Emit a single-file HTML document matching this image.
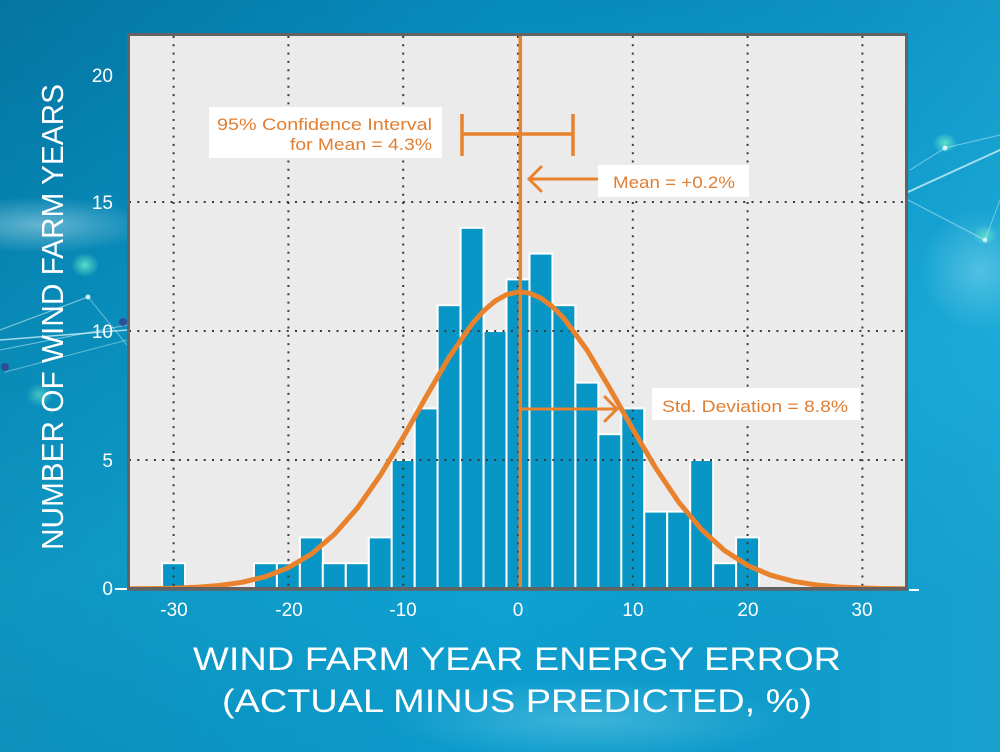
<!DOCTYPE html>
<html>
<head>
<meta charset="utf-8">
<style>
  html,body{margin:0;padding:0;}
  body{width:1000px;height:752px;overflow:hidden;background:#0a9acc;}
  svg{display:block;}
  text{font-family:"Liberation Sans",sans-serif;}
</style>
</head>
<body>
<svg width="1000" height="752" viewBox="0 0 1000 752" xmlns="http://www.w3.org/2000/svg">
  <defs>
    <linearGradient id="bg" x1="0" y1="0" x2="0.35" y2="1">
      <stop offset="0" stop-color="#0581b3"/>
      <stop offset="0.35" stop-color="#0896c8"/>
      <stop offset="0.7" stop-color="#10a6d6"/>
      <stop offset="1" stop-color="#0c9ccd"/>
    </linearGradient>
    <linearGradient id="bgr" x1="0" y1="0" x2="1" y2="0">
      <stop offset="0" stop-color="#000" stop-opacity="0.10"/>
      <stop offset="0.5" stop-color="#000" stop-opacity="0"/>
      <stop offset="1" stop-color="#fff" stop-opacity="0.05"/>
    </linearGradient>
    <radialGradient id="glow" cx="0.5" cy="0.5" r="0.5">
      <stop offset="0" stop-color="#bff4ff" stop-opacity="0.55"/>
      <stop offset="1" stop-color="#bff4ff" stop-opacity="0"/>
    </radialGradient>
    <radialGradient id="gglow" cx="0.5" cy="0.5" r="0.5">
      <stop offset="0" stop-color="#6ff0c8" stop-opacity="0.8"/>
      <stop offset="1" stop-color="#6ff0c8" stop-opacity="0"/>
    </radialGradient>
    <radialGradient id="haze" cx="0.5" cy="0.5" r="0.5">
      <stop offset="0" stop-color="#d8f0f6" stop-opacity="0.45"/>
      <stop offset="1" stop-color="#d8f0f6" stop-opacity="0"/>
    </radialGradient>
    <clipPath id="plotclip"><rect x="127" y="34" width="781" height="555"/></clipPath>
  </defs>

  <!-- background -->
  <rect x="0" y="0" width="1000" height="752" fill="url(#bg)"/>
  <rect x="0" y="0" width="1000" height="752" fill="url(#bgr)"/>
  <ellipse cx="40" cy="225" rx="110" ry="28" fill="url(#haze)"/>
  <ellipse cx="590" cy="720" rx="200" ry="40" fill="url(#glow)" opacity="0.5"/>
  <ellipse cx="980" cy="270" rx="60" ry="60" fill="url(#glow)" opacity="0.6"/>
  <ellipse cx="85" cy="265" rx="14" ry="12" fill="url(#gglow)"/>
  <ellipse cx="40" cy="395" rx="14" ry="12" fill="url(#gglow)" opacity="0.7"/>
  <ellipse cx="945" cy="143" rx="12" ry="10" fill="url(#gglow)"/>
  <ellipse cx="985" cy="235" rx="12" ry="10" fill="url(#gglow)" opacity="0.8"/>
  <!-- network lines -->
  <g stroke="#e8fbff" fill="none" stroke-linecap="round">
    <line x1="0" y1="340" x2="127" y2="330" stroke-width="1.5" opacity="0.7"/>
    <line x1="0" y1="330" x2="88" y2="297" stroke-width="1.2" opacity="0.55"/>
    <line x1="0" y1="350" x2="127" y2="325" stroke-width="1" opacity="0.5"/>
    <line x1="88" y1="297" x2="127" y2="345" stroke-width="1" opacity="0.4"/>
    <line x1="5" y1="372" x2="127" y2="340" stroke-width="1" opacity="0.4"/>
    <line x1="908" y1="192" x2="1000" y2="150" stroke-width="1.8" opacity="0.7"/>
    <line x1="908" y1="200" x2="985" y2="240" stroke-width="1" opacity="0.45"/>
    <line x1="910" y1="170" x2="945" y2="148" stroke-width="1" opacity="0.5"/>
    <line x1="945" y1="148" x2="1000" y2="135" stroke-width="1" opacity="0.45"/>
    <line x1="985" y1="240" x2="1000" y2="200" stroke-width="1" opacity="0.4"/>
  </g>
  <circle cx="5" cy="367" r="4" fill="#3a3f8a" opacity="0.8"/>
  <circle cx="123" cy="322" r="4" fill="#3a3f8a" opacity="0.8"/>
  <circle cx="88" cy="297" r="2.5" fill="#f0ffff" opacity="0.8"/>
  <circle cx="945" cy="148" r="2.5" fill="#f0ffff" opacity="0.8"/>
  <circle cx="985" cy="240" r="2.5" fill="#f0ffff" opacity="0.7"/>

  <!-- plot background -->
  <rect x="127" y="34" width="781" height="555" fill="#ebebeb"/>

  <!-- bars -->
  <g fill="#0896c7" stroke="#ffffff" stroke-width="2" clip-path="url(#plotclip)">
    <rect x="162.1" y="563.2" width="22.96" height="25.8"/>
    <rect x="253.96" y="563.2" width="22.96" height="25.8"/>
    <rect x="276.9" y="563.2" width="22.96" height="25.8"/>
    <rect x="299.9" y="537.4" width="22.96" height="51.6"/>
    <rect x="322.8" y="563.2" width="22.96" height="25.8"/>
    <rect x="345.8" y="563.2" width="22.96" height="25.8"/>
    <rect x="368.8" y="537.4" width="22.96" height="51.6"/>
    <rect x="391.7" y="460" width="22.96" height="129"/>
    <rect x="414.7" y="408.4" width="22.96" height="180.6"/>
    <rect x="437.6" y="305.2" width="22.96" height="283.8"/>
    <rect x="460.6" y="227.8" width="22.96" height="361.2"/>
    <rect x="483.6" y="331" width="22.96" height="258"/>
    <rect x="506.5" y="279.4" width="22.96" height="309.6"/>
    <rect x="529.5" y="253.6" width="22.96" height="335.4"/>
    <rect x="552.4" y="305.2" width="22.96" height="283.8"/>
    <rect x="575.4" y="382.6" width="22.96" height="206.4"/>
    <rect x="598.4" y="434.2" width="22.96" height="154.8"/>
    <rect x="621.3" y="408.4" width="22.96" height="180.6"/>
    <rect x="644.3" y="511.6" width="22.96" height="77.4"/>
    <rect x="667.2" y="511.6" width="22.96" height="77.4"/>
    <rect x="690.2" y="460" width="22.96" height="129"/>
    <rect x="713.2" y="563.2" width="22.96" height="25.8"/>
    <rect x="736.1" y="537.4" width="22.96" height="51.6"/>
  </g>

  <!-- grid -->
  <g stroke="#3a3a3a" stroke-width="2" stroke-dasharray="2 6.3" fill="none">
    <line x1="173.6" y1="36" x2="173.6" y2="588"/>
    <line x1="288.4" y1="36" x2="288.4" y2="588"/>
    <line x1="403.2" y1="36" x2="403.2" y2="588"/>
    <line x1="518" y1="36" x2="518" y2="588"/>
    <line x1="632.8" y1="36" x2="632.8" y2="588"/>
    <line x1="747.6" y1="36" x2="747.6" y2="588"/>
    <line x1="862.4" y1="36" x2="862.4" y2="588"/>
    <line x1="129" y1="460" x2="906" y2="460"/>
    <line x1="129" y1="331" x2="906" y2="331"/>
    <line x1="129" y1="202" x2="906" y2="202"/>
  </g>

  <!-- normal curve -->
  <polyline clip-path="url(#plotclip)" fill="none" stroke="#e8822c" stroke-width="5" stroke-linejoin="round" stroke-linecap="round"
    points="127.7,588.8 150.6,588.6 173.6,588.2 196.6,587.25 219.5,585.5 242.5,582.2 265.4,576.7 288.4,567.7 311.4,554.0 334.3,534.4 357.3,508.2 380.2,475.4 403.2,437.3 426.2,396.6 449.1,357.2 472.1,323.9 483.6,310.9 495.0,301.1 506.5,294.7 518,292.0 520.3,291.9 529.5,293.2 541.0,298.1 552.4,306.6 563.9,318.4 586.9,349.9 609.8,388.4 632.8,429.2 655.8,468.1 678.7,502.1 701.7,529.7 724.6,550.6 747.6,565.4 770.6,575.2 793.5,581.3 816.5,585.0 839.4,587.0 862.4,588.0 885.4,588.6 908.3,588.8"/>

  <!-- mean line -->
  <line x1="520.3" y1="35" x2="520.3" y2="589" stroke="#e8822c" stroke-width="3.5"/>

  <!-- frame -->
  <rect x="128.5" y="34.5" width="778" height="554" fill="none" stroke="#636363" stroke-width="3"/>
  <line x1="127" y1="589" x2="908" y2="589" stroke="#636363" stroke-width="3.5"/>
  <line x1="115" y1="589" x2="127" y2="589" stroke="#ffffff" stroke-width="2"/>
  <line x1="909" y1="590" x2="919" y2="590" stroke="#ffffff" stroke-width="2"/>

  <!-- CI bar -->
  <g stroke="#e8822c" stroke-width="3.5" fill="none">
    <line x1="462" y1="134" x2="573" y2="134"/>
    <line x1="462" y1="114" x2="462" y2="156"/>
    <line x1="573" y1="114" x2="573" y2="156"/>
  </g>

  <!-- mean arrow -->
  <g stroke="#e8822c" stroke-width="3" fill="none" stroke-linecap="round" stroke-linejoin="round">
    <line x1="529" y1="179" x2="597" y2="179"/>
    <polyline points="541,167 529,179 541,191"/>
    <line x1="521" y1="409" x2="617" y2="409"/>
    <polyline points="605,397 617,409 605,421"/>
  </g>

  <!-- annotation boxes -->
  <rect x="209" y="107" width="233" height="51" fill="#ffffff"/>
  <rect x="598" y="165" width="151" height="32" fill="#ffffff"/>
  <rect x="652" y="388" width="208" height="32" fill="#ffffff"/>
  <g fill="#e07f33" font-size="17">
    <text x="432" y="130" text-anchor="end" textLength="215" lengthAdjust="spacingAndGlyphs">95% Confidence Interval</text>
    <text x="432" y="150" text-anchor="end" textLength="142" lengthAdjust="spacingAndGlyphs">for Mean = 4.3%</text>
    <text x="613" y="188" textLength="122" lengthAdjust="spacingAndGlyphs">Mean = +0.2%</text>
    <text x="662" y="412" textLength="186" lengthAdjust="spacingAndGlyphs">Std. Deviation = 8.8%</text>
  </g>

  <!-- y tick labels -->
  <g fill="#ffffff" font-size="19" text-anchor="end">
    <text x="113" y="82">20</text>
    <text x="113" y="209">15</text>
    <text x="113" y="338">10</text>
    <text x="113" y="467">5</text>
    <text x="113" y="595">0</text>
  </g>

  <!-- x tick labels -->
  <g fill="#ffffff" font-size="19" text-anchor="middle">
    <text x="174" y="616">-30</text>
    <text x="289" y="616">-20</text>
    <text x="403" y="616">-10</text>
    <text x="518" y="616">0</text>
    <text x="633" y="616">10</text>
    <text x="748" y="616">20</text>
    <text x="862" y="616">30</text>
  </g>

  <!-- axis titles -->
  <text x="517" y="670" fill="#ffffff" font-size="32" text-anchor="middle" textLength="648" lengthAdjust="spacingAndGlyphs">WIND FARM YEAR ENERGY ERROR</text>
  <text x="517" y="712" fill="#ffffff" font-size="32" text-anchor="middle" textLength="590" lengthAdjust="spacingAndGlyphs">(ACTUAL MINUS PREDICTED, %)</text>
  <text transform="translate(63,317) rotate(-90)" fill="#ffffff" font-size="31" text-anchor="middle" textLength="466" lengthAdjust="spacingAndGlyphs">NUMBER OF WIND FARM YEARS</text>
</svg>
</body>
</html>
